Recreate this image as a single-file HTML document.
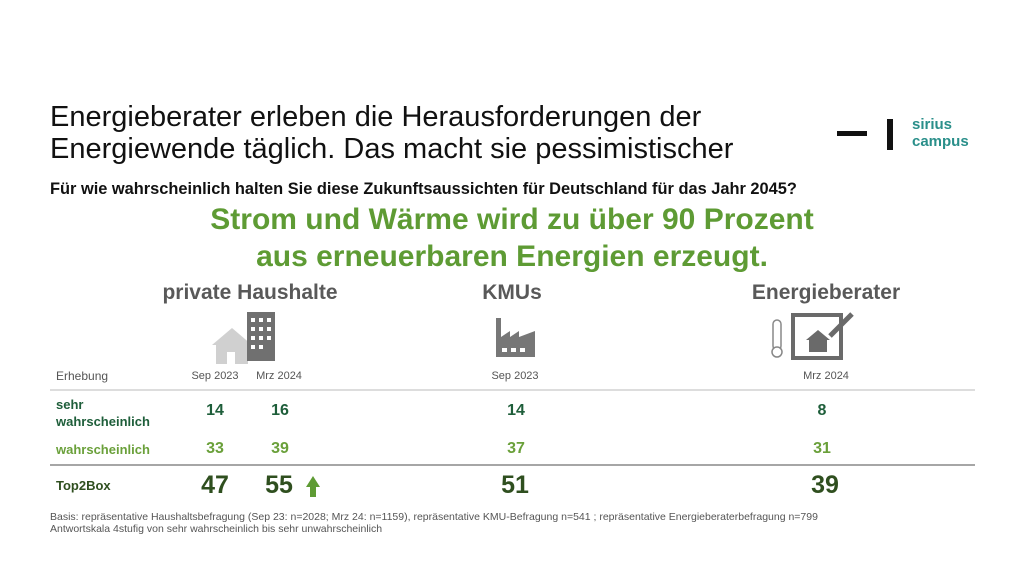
<!DOCTYPE html>
<html><head><meta charset="utf-8"><style>
body{margin:0;width:1024px;height:576px;background:#fff;position:relative;overflow:hidden;font-family:"Liberation Sans",sans-serif}
.a{position:absolute;white-space:nowrap}
.c{transform:translateX(-50%)}
.t{font-size:29px;color:#111;left:50px;line-height:32px}
.h{font-size:21px;font-weight:bold;color:#595959}
.d{font-size:11px;color:#555}
.n1{font-size:16px;font-weight:bold;color:#1e5e3a}
.n2{font-size:16px;font-weight:bold;color:#6aa03a}
.n3{font-size:25px;font-weight:bold;color:#2f4f1f}
</style></head><body>
<div class="a t" style="top:101px">Energieberater erleben die Herausforderungen der</div>
<div class="a t" style="top:133px">Energiewende täglich. Das macht sie pessimistischer</div>
<div class="a" style="left:837px;top:131px;width:30px;height:5px;background:#111"></div>
<div class="a" style="left:887px;top:119px;width:6px;height:31px;background:#111"></div>
<div class="a" style="left:912px;top:116px;font-size:15px;line-height:17px;color:#2a8f8a;font-weight:bold">sirius<br>campus</div>
<div class="a" style="left:50px;top:180px;font-size:16.4px;font-weight:bold;color:#111">Für wie wahrscheinlich halten Sie diese Zukunftsaussichten für Deutschland für das Jahr 2045?</div>
<div class="a c" style="left:512px;top:201px;font-size:30px;font-weight:bold;color:#5e9b34;text-align:center;line-height:37px">Strom und Wärme wird zu über 90 Prozent<br>aus erneuerbaren Energien erzeugt.</div>
<div class="a c h" style="left:250px;top:281px">private Haushalte</div>
<div class="a c h" style="left:512px;top:281px">KMUs</div>
<div class="a c h" style="left:826px;top:281px">Energieberater</div>
<svg class="a" style="left:0;top:0" width="1024" height="576">
<g fill="#d0d0d0"><polygon points="212,345 232,328 252,345"/><rect x="216" y="344" width="32" height="20"/></g>
<rect x="227" y="352" width="8" height="12" fill="#fff"/>
<rect x="247" y="312" width="28" height="49" fill="#707070"/>
<g fill="#fff"><rect x="251" y="318" width="4" height="4"/><rect x="259" y="318" width="4" height="4"/><rect x="267" y="318" width="4" height="4"/><rect x="251" y="327" width="4" height="4"/><rect x="259" y="327" width="4" height="4"/><rect x="267" y="327" width="4" height="4"/><rect x="251" y="336" width="4" height="4"/><rect x="259" y="336" width="4" height="4"/><rect x="267" y="336" width="4" height="4"/><rect x="251" y="345" width="4" height="4"/><rect x="259" y="345" width="4" height="4"/></g>
<polygon fill="#777" points="496,318 501,318 501,337 510,331 510,337 519,331 519,337 535,331 535,357 496,357"/>
<g fill="#fff"><rect x="502" y="348" width="5" height="4"/><rect x="511" y="348" width="5" height="4"/><rect x="520" y="348" width="5" height="4"/></g>
<rect x="773" y="320" width="8" height="30" rx="4" fill="none" stroke="#888" stroke-width="1.5"/><circle cx="777" cy="352" r="5" fill="#fff" stroke="#888" stroke-width="1.5"/>
<rect x="793" y="315" width="48" height="43" fill="none" stroke="#6a6a6a" stroke-width="4"/>
<polygon fill="#6a6a6a" points="806,340 818,330 830,340 827,340 827,352 809,352 809,340"/>
<line x1="830" y1="336" x2="852" y2="314" stroke="#6a6a6a" stroke-width="5"/>
<line x1="50" y1="390" x2="975" y2="390" stroke="#bbb" stroke-width="1"/>
<line x1="50" y1="465" x2="975" y2="465" stroke="#888" stroke-width="1.5"/>
<polygon fill="#5e9b34" points="306,487 313,476 320,487 316,487 316,497 310,497 310,487"/>
</svg>
<div class="a d" style="left:56px;top:369px;font-size:12px">Erhebung</div>
<div class="a c d" style="left:215px;top:370px">Sep 2023</div>
<div class="a c d" style="left:279px;top:370px">Mrz 2024</div>
<div class="a c d" style="left:515px;top:370px">Sep 2023</div>
<div class="a c d" style="left:826px;top:370px">Mrz 2024</div>
<div class="a" style="left:56px;top:396px;font-size:13px;font-weight:bold;color:#1e5e3a;line-height:17px">sehr<br>wahrscheinlich</div>
<div class="a" style="left:56px;top:442px;font-size:13px;font-weight:bold;color:#6aa03a">wahrscheinlich</div>
<div class="a" style="left:56px;top:478px;font-size:13px;font-weight:bold;color:#2f4f1f">Top2Box</div>
<div class="a c n1" style="left:215px;top:402px">14</div><div class="a c n1" style="left:280px;top:402px">16</div><div class="a c n1" style="left:516px;top:402px">14</div><div class="a c n1" style="left:822px;top:402px">8</div>
<div class="a c n2" style="left:215px;top:440px">33</div><div class="a c n2" style="left:280px;top:440px">39</div><div class="a c n2" style="left:516px;top:440px">37</div><div class="a c n2" style="left:822px;top:440px">31</div>
<div class="a c n3" style="left:215px;top:471px">47</div><div class="a c n3" style="left:279px;top:471px">55</div><div class="a c n3" style="left:515px;top:471px">51</div><div class="a c n3" style="left:825px;top:471px">39</div>
<div class="a" style="left:50px;top:511px;font-size:10.5px;color:#555;line-height:12px">Basis: repräsentative Haushaltsbefragung (Sep 23: n=2028; Mrz 24: n=1159), repräsentative KMU-Befragung n=541 ; repräsentative Energieberaterbefragung n=799<br>Antwortskala 4stufig von sehr wahrscheinlich bis sehr unwahrscheinlich</div>
</body></html>
